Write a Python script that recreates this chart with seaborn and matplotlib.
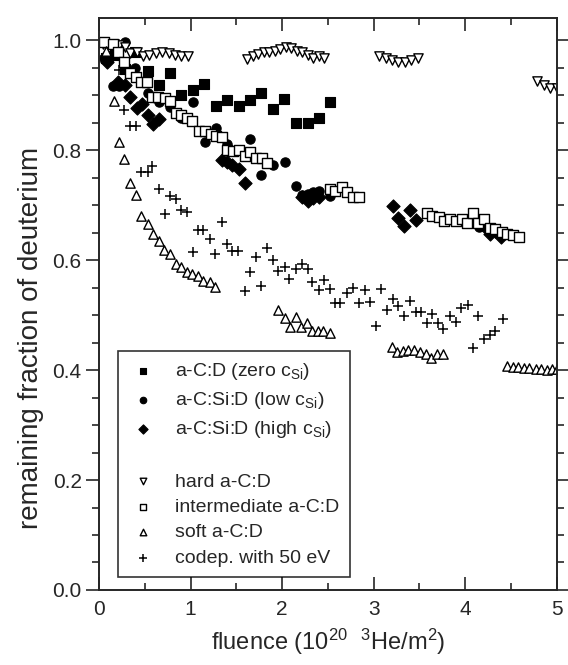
import matplotlib
matplotlib.use('Agg')
import matplotlib.pyplot as plt
from matplotlib.lines import Line2D
from matplotlib.ticker import MultipleLocator, FormatStrFormatter
import seaborn as sns

# data
zero_x = [0.08, 0.17, 0.28, 0.39, 0.53, 0.65, 0.77, 0.90, 1.03, 1.15, 1.28, 1.40, 1.53, 1.65, 1.77,
          1.90, 2.02, 2.15, 2.28, 2.40, 2.52]
zero_y = [0.968, 0.973, 0.948, 0.978, 0.944, 0.918, 0.940, 0.900, 0.910, 0.921, 0.881, 0.891, 0.880,
          0.891, 0.903, 0.874, 0.893, 0.849, 0.849, 0.858, 0.888]

low_x = [0.15, 0.22, 0.28, 0.39, 0.53, 0.66, 0.78, 0.90, 1.03, 1.16, 1.28, 1.40, 1.65, 1.77, 1.90,
         2.03, 2.15, 2.22, 2.28, 2.34, 2.40, 2.52, 4.15, 4.27, 4.39]
low_y = [0.916, 0.916, 0.997, 0.950, 0.904, 0.887, 0.878, 0.858, 0.888, 0.815, 0.841, 0.811, 0.820,
         0.755, 0.772, 0.779, 0.734, 0.719, 0.721, 0.723, 0.725, 0.717, 0.661, 0.653, 0.647]

high_x = [0.05, 0.09, 0.13, 0.21, 0.28, 0.34, 0.41, 0.47, 0.53, 0.59, 0.66, 1.34, 1.40, 1.45, 1.53,
          1.59, 2.22, 2.28, 2.34, 2.40, 3.21, 3.27, 3.33, 3.40, 3.46, 4.15, 4.21, 4.27, 4.33, 4.39]
high_y = [0.968, 0.961, 0.971, 0.923, 0.919, 0.897, 0.876, 0.884, 0.864, 0.847, 0.856, 0.782, 0.778,
          0.772, 0.765, 0.741, 0.715, 0.708, 0.713, 0.715, 0.698, 0.677, 0.662, 0.691, 0.672, 0.667,
          0.662, 0.648, 0.653, 0.642]

hard_x = [0.04, 0.10, 0.16, 0.22, 0.28, 0.34, 0.41, 0.48, 0.55, 0.62, 0.69, 0.76, 0.83, 0.90, 0.97,
          1.62, 1.68, 1.74, 1.80, 1.86, 1.92, 1.98, 2.04, 2.10, 2.16, 2.22, 2.28, 2.34, 2.40, 2.46,
          3.06, 3.13, 3.20, 3.27, 3.34, 3.41, 3.48,
          4.78, 4.86, 4.93, 5.0]
hard_y = [0.993, 0.991, 0.993, 0.991, 0.988, 0.976, 0.978, 0.971, 0.973, 0.976, 0.978, 0.976, 0.973,
          0.971, 0.971,
          0.965, 0.971, 0.975, 0.978, 0.978, 0.981, 0.983, 0.988, 0.986, 0.981, 0.978, 0.973, 0.968,
          0.971, 0.968,
          0.971, 0.968, 0.963, 0.961, 0.961, 0.963, 0.968,
          0.926, 0.918, 0.913, 0.913]

inter_x = [0.06, 0.15, 0.21, 0.275, 0.34, 0.40, 0.46, 0.52, 0.58, 0.64, 0.72, 0.78, 0.84, 0.90, 0.96,
           1.02, 1.09, 1.16, 1.22, 1.28, 1.34, 1.40, 1.46, 1.53, 1.59, 1.65, 1.71, 1.78, 1.83,
           2.52, 2.58, 2.65, 2.71, 2.77, 2.84,
           3.58, 3.64, 3.71, 3.77, 3.83, 3.90, 3.96, 4.02, 4.09, 4.14, 4.21, 4.27, 4.33, 4.40, 4.46,
           4.52, 4.59]
inter_y = [0.996, 0.993, 0.978, 0.961, 0.941, 0.932, 0.923, 0.923, 0.896, 0.896, 0.894, 0.889, 0.867,
           0.864, 0.858, 0.853, 0.835, 0.835, 0.829, 0.826, 0.823, 0.801, 0.798, 0.801, 0.789, 0.796,
           0.786, 0.786, 0.777,
           0.730, 0.725, 0.733, 0.723, 0.715, 0.715,
           0.686, 0.680, 0.679, 0.671, 0.674, 0.671, 0.674, 0.668, 0.686, 0.667, 0.675, 0.659, 0.657,
           0.651, 0.648, 0.646, 0.641]

soft_x = [0.08, 0.16, 0.22, 0.275, 0.34, 0.40, 0.46, 0.53, 0.59, 0.65, 0.71, 0.78, 0.84, 0.90, 0.96,
          1.02, 1.08, 1.14, 1.21, 1.27,
          1.96, 2.03, 2.09, 2.15, 2.21, 2.27, 2.33, 2.39, 2.45, 2.52,
          3.20, 3.26, 3.32, 3.38, 3.44, 3.51, 3.57, 3.63, 3.69, 3.76,
          4.46, 4.52, 4.58, 4.64, 4.70, 4.77, 4.83, 4.89, 4.95, 5.0]
soft_y = [0.981, 0.889, 0.815, 0.783, 0.740, 0.718, 0.681, 0.665, 0.648, 0.634, 0.619, 0.611, 0.592,
          0.587, 0.579, 0.574, 0.571, 0.562, 0.560, 0.551,
          0.509, 0.494, 0.478, 0.497, 0.479, 0.485, 0.471, 0.471, 0.471, 0.468,
          0.442, 0.433, 0.434, 0.436, 0.436, 0.433, 0.430, 0.422, 0.430, 0.430,
          0.408, 0.405, 0.405, 0.404, 0.403, 0.402, 0.401, 0.400, 0.402, 0.402]

codep_x = [0.22, 0.275, 0.34, 0.40, 0.46, 0.53, 0.58, 0.66, 0.72, 0.78, 0.84, 0.90, 0.96, 1.03, 1.08,
           1.14, 1.21, 1.27, 1.34, 1.40, 1.45, 1.52, 1.59, 1.65, 1.71, 1.77, 1.84, 1.90, 1.96, 2.03,
           2.08, 2.15, 2.22, 2.28, 2.33, 2.40, 2.46, 2.52, 2.58, 2.63, 2.71, 2.77, 2.84, 2.90, 2.96,
           3.02, 3.08, 3.14, 3.21, 3.27, 3.33, 3.40, 3.46, 3.52, 3.58, 3.64, 3.70, 3.76, 3.83, 3.90,
           3.95, 4.03, 4.08, 4.14, 4.21, 4.27, 4.33, 4.41]
codep_y = [0.946, 0.873, 0.843, 0.843, 0.760, 0.760, 0.771, 0.729, 0.683, 0.717, 0.711, 0.691, 0.687,
           0.614, 0.654, 0.654, 0.638, 0.611, 0.669, 0.629, 0.616, 0.616, 0.543, 0.578, 0.606, 0.553,
           0.622, 0.600, 0.580, 0.588, 0.565, 0.584, 0.592, 0.584, 0.560, 0.546, 0.564, 0.548, 0.522,
           0.522, 0.540, 0.550, 0.522, 0.545, 0.523, 0.480, 0.548, 0.509, 0.529, 0.516, 0.498, 0.526,
           0.505, 0.505, 0.485, 0.502, 0.486, 0.474, 0.499, 0.488, 0.513, 0.518, 0.440, 0.498, 0.457,
           0.463, 0.471, 0.493]

sns.set_style('ticks')
plt.rcParams.update({'font.family': ['Liberation Sans', 'DejaVu Sans'], 'font.size': 15,
                     'mathtext.default': 'regular'})

fig = plt.figure(figsize=(5.68, 6.65), dpi=100)
ax = fig.add_axes([0.1743, 0.1128, 0.806, 0.860])

filled = dict(color='black', edgecolor='black', linewidth=0.8, s=45)
opened = dict(color='white', edgecolor='black', linewidth=1.0, s=45)

sns.scatterplot(x=zero_x, y=zero_y, marker='s', label='a-C:D (zero c$_{Si}$)', ax=ax, **filled)
sns.scatterplot(x=low_x, y=low_y, marker='o', label='a-C:Si:D (low c$_{Si}$)', ax=ax, **filled)
sns.scatterplot(x=high_x, y=high_y, marker='D', label='a-C:Si:D (high c$_{Si}$)', ax=ax, **filled)
sns.scatterplot(x=hard_x, y=hard_y, marker='v', label='hard a-C:D', ax=ax, **opened)
sns.scatterplot(x=inter_x, y=inter_y, marker='s', label='intermediate a-C:D', ax=ax, **opened)
sns.scatterplot(x=soft_x, y=soft_y, marker='^', label='soft a-C:D', ax=ax, **opened)
sns.scatterplot(x=codep_x, y=codep_y, marker='+', label='codep. with 50 eV', ax=ax,
                color='black', linewidth=1.1, s=55)

ax.set_xlim(0, 5)
ax.set_ylim(0, 1.04)
ax.xaxis.set_major_locator(MultipleLocator(1))
ax.xaxis.set_minor_locator(MultipleLocator(0.5))
ax.yaxis.set_major_locator(MultipleLocator(0.2))
ax.yaxis.set_minor_locator(MultipleLocator(0.05))
ax.yaxis.set_major_formatter(FormatStrFormatter('%.1f'))
ax.tick_params(which='both', top=True, right=True, direction='in', width=1.2)
ax.tick_params(axis='y', which='both', left=True, direction='out')
ax.tick_params(which='major', length=9.5, labelsize=15)
ax.tick_params(which='minor', length=5)
ax.tick_params(axis='x', pad=7)
ax.tick_params(axis='y', pad=3)
for sp in ax.spines.values():
    sp.set_linewidth(1.4)

ax.set_xlabel('fluence (10$^{20}$  $^{3}$He/m$^{2}$)', fontsize=17, labelpad=6)
ax.set_ylabel('remaining fraction of deuterium', fontsize=20, labelpad=6)
ax.yaxis.label.set_y(0.44)

handles, labels = ax.get_legend_handles_labels()
blank = Line2D([], [], linestyle='none', marker='')
handles = handles[:3] + [blank] + handles[3:]
labels = labels[:3] + [' '] + labels[3:]
leg = ax.legend(handles, labels, loc='lower left', bbox_to_anchor=(0.041, 0.022), fontsize=14,
                markerscale=0.7, frameon=True, fancybox=False, edgecolor='black',
                labelspacing=0.4, handlelength=1.5, handletextpad=0.9, borderpad=0.55,
                borderaxespad=0)
leg.get_frame().set_linewidth(1.2)

fig.savefig('out.png', dpi=100)
